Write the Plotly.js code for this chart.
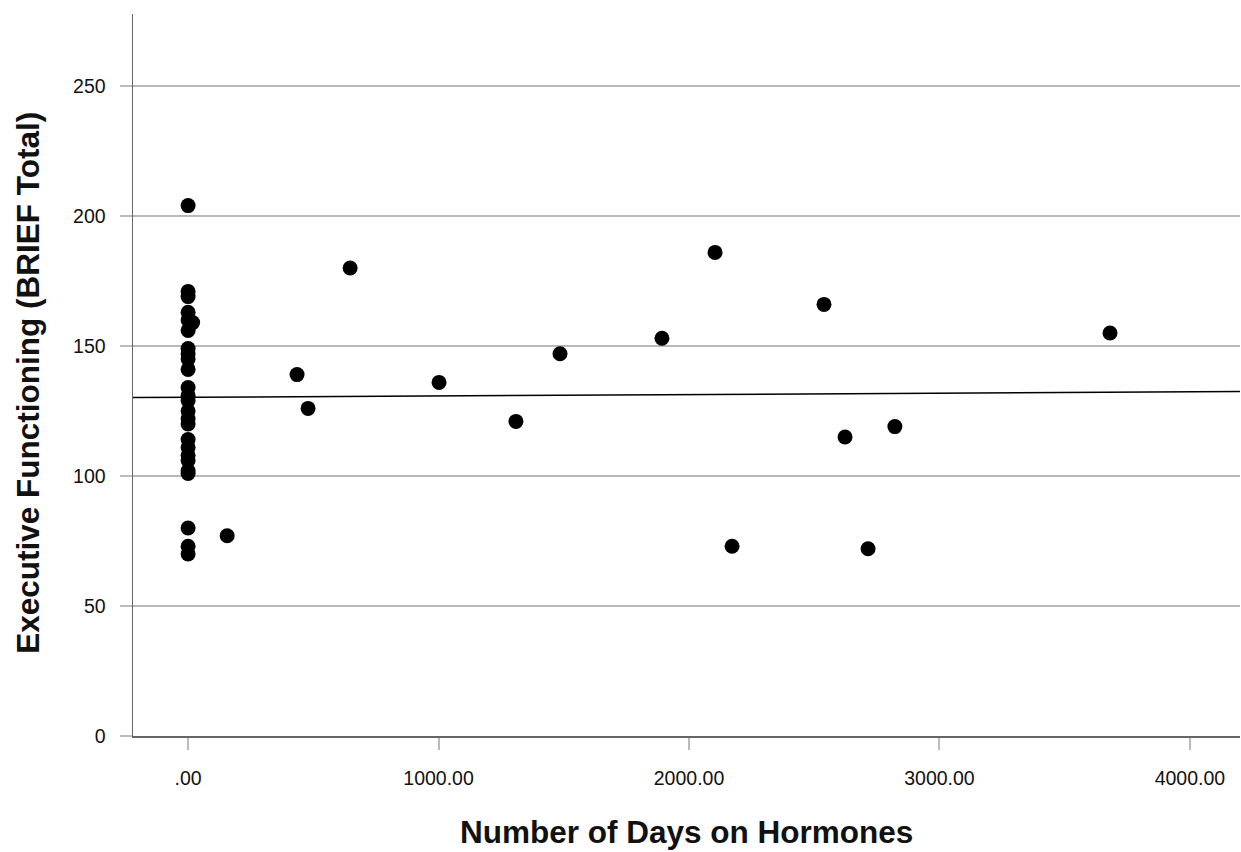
<!DOCTYPE html>
<html>
<head>
<meta charset="utf-8">
<script src="https://cdn.plot.ly/plotly-3.0.1.min.js"></script>
<style>
html,body{margin:0;padding:0;background:#fff;}
#chart{width:1241px;height:852px;}
</style>
</head>
<body>
<div id="chart"></div>
<script>
// Number of days on hormones
const days = [
  0, 0, 0, 0, 0, 0, 0, 0, 0, 0, 0, 0, 0,
  0, 0, 0, 0, 0, 0, 0, 0, 0, 0, 0, 0, 18,
  156, 435, 479, 647, 1002, 1309, 1485, 1892, 2104, 2172, 2539, 2623, 2715, 2822, 3681
];
// Executive Functioning (BRIEF Total)
const brief = [
  204, 171, 169, 163, 160, 156, 149, 147, 145, 141, 134, 131, 129,
  125, 122, 120, 114, 111, 108, 106, 102, 101, 80, 73, 70, 159,
  77, 139, 126, 180, 136, 121, 147, 153, 186, 73, 166, 115, 72, 119, 155
];
const xTickVals = [0, 1000, 2000, 3000, 4000];
const xTickText = ['.00', '1000.00', '2000.00', '3000.00', '4000.00'];
const yTickVals = [0, 50, 100, 150, 200, 250];
const xTitle = 'Number of Days on Hormones';
const yTitle = 'Executive Functioning (BRIEF Total)';
const xRange = [-220, 4200];
const yRange = [0, 277.7];

// linear fit (least squares)
const n = days.length;
const mx = days.reduce((a,b)=>a+b,0)/n;
const my = brief.reduce((a,b)=>a+b,0)/n;
let sxy = 0, sxx = 0;
for (let i = 0; i < n; i++) { sxy += (days[i]-mx)*(brief[i]-my); sxx += (days[i]-mx)*(days[i]-mx); }
const slope = sxy/sxx;
const intercept = my - slope*mx;
const fitX = xRange.slice();
const fitY = fitX.map(x => intercept + slope*x);

const font = 'Liberation Sans, Arial, sans-serif';
const titleFont = {family: font, size: 31.5, color: '#111', weight: 'bold'};

const traces = [
  {
    x: fitX, y: fitY, type: 'scatter', mode: 'lines',
    line: {color: '#000', width: 1.5}, hoverinfo: 'skip', showlegend: false
  },
  {
    x: days, y: brief, type: 'scatter', mode: 'markers',
    marker: {color: '#000', size: 15, line: {width: 0}}, showlegend: false
  }
];

const layout = {
  width: 1241, height: 852,
  margin: {l: 133, r: 1, t: 14, b: 116},
  paper_bgcolor: '#fff', plot_bgcolor: '#fff',
  font: {family: font, size: 19.5, color: '#111'},
  xaxis: {
    range: xRange, tickvals: xTickVals, ticktext: xTickText,
    showgrid: false, zeroline: false,
    showline: true, linecolor: '#666', linewidth: 1.5,
    ticks: 'outside', ticklen: 12, tickcolor: '#bbb', tickwidth: 2,
    ticklabelstandoff: 12,
    tickfont: {family: font, size: 19.5, color: '#111'}
  },
  yaxis: {
    range: yRange, tickvals: yTickVals,
    showgrid: true, gridcolor: '#b9b9b9', gridwidth: 1.5,
    zeroline: false,
    showline: true, linecolor: '#666', linewidth: 1.5,
    ticks: 'outside', ticklen: 12, tickcolor: '#bbb', tickwidth: 2,
    ticklabelstandoff: 10,
    tickfont: {family: font, size: 19.5, color: '#111'}
  },
  annotations: [
    {text: xTitle, xref: 'paper', yref: 'paper', x: 0.5, y: -0.133,
     xanchor: 'center', yanchor: 'middle', showarrow: false, font: titleFont},
    {text: yTitle, xref: 'paper', yref: 'paper', x: -0.095, y: 0.489, textangle: -90,
     xanchor: 'center', yanchor: 'middle', showarrow: false, font: titleFont}
  ]
};

Plotly.newPlot('chart', traces, layout, {displayModeBar: false, staticPlot: true});
</script>
</body>
</html>
